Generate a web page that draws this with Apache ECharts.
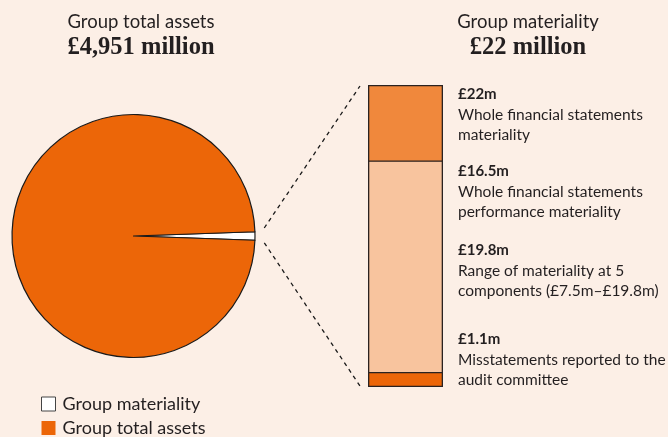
<!DOCTYPE html>
<html>
<head>
<meta charset="utf-8">
<script src="https://cdn.jsdelivr.net/npm/echarts@6/dist/echarts.min.js"></script>
<style>
  html, body { margin: 0; padding: 0; background: #fcefe6; }
  #chart { width: 668px; height: 437px; }
</style>
</head>
<body>
<div id="chart"></div>
<script>
// Pie: group materiality within group total assets (£m)
const pieNames = ['Group materiality', 'Group total assets'];
const pieValues = [22, 4929];
const pieColors = ['#ffffff', '#ec6608'];

// Materiality levels (£m), drawn as overlapping bars from zero
const barNames = ['Whole financial statements materiality', 'Performance materiality', 'Misstatements reported'];
const barValues = [22, 16.5, 1.1];
const barColors = ['#f0883c', '#f8c49e', '#ec6608'];
const barAxisMax = 22;

// Notes to the right of the bar
const noteValues = ['£22m', '£16.5m', '£19.8m', '£1.1m'];
const noteTexts = [
  'Whole financial statements\nmateriality',
  'Whole financial statements\nperformance materiality',
  'Range of materiality at 5\ncomponents (£7.5m–£19.8m)',
  'Misstatements reported to the\naudit committee'
];
const noteTops = [87, 164, 243, 332];

const SANS = 'Lato, "Open Sans", sans-serif';
const SERIF = '"Liberation Serif", "DejaVu Serif", serif';
const INK = '#231f20';

const pieCenter = [133.5, 236];
const pieRadius = 121.5;
const gridLeft = 368, gridTop = 85, gridWidth = 75, gridHeight = 302;

const chart = echarts.init(document.getElementById('chart'), null, { renderer: 'canvas' });

const noteGraphics = noteValues.map((v, i) => ({
  type: 'text',
  left: 458,
  top: noteTops[i],
  style: {
    text: '{v|' + v + '}\n{d|' + noteTexts[i].split('\n').join('}\n{d|') + '}',
    rich: {
      v: { fontFamily: SANS, fontWeight: 'bold', fontSize: 15, lineHeight: 20, fill: INK },
      d: { fontFamily: SANS, fontSize: 15.5, lineHeight: 20, fill: INK }
    }
  }
}));

const titleStyle = { fontFamily: SANS, fontWeight: 'normal', fontSize: 18.5, color: INK };
const subStyle = { fontFamily: SERIF, fontWeight: 'bold', fontSize: 24.5, color: INK };

const option = {
  animation: false,
  backgroundColor: '#fcefe6',
  title: [
    {
      text: 'Group total assets', subtext: '£4,951 million',
      left: 136, top: 8, textAlign: 'center', itemGap: 3,
      textStyle: titleStyle, subtextStyle: subStyle
    },
    {
      text: 'Group materiality', subtext: '£22 million',
      left: 523, top: 8, textAlign: 'center', itemGap: 3,
      textStyle: titleStyle, subtextStyle: subStyle
    }
  ],
  legend: {
    orient: 'vertical', left: 41, top: 395, padding: 0,
    itemWidth: 14, itemHeight: 14, itemGap: 6,
    icon: 'rect',
    selectedMode: false,
    textStyle: { fontFamily: SANS, fontSize: 18, color: INK, padding: [0, 0, 0, 2] },
    data: [
      { name: pieNames[0], itemStyle: { color: '#ffffff', borderColor: '#444', borderWidth: 1 } },
      { name: pieNames[1], itemStyle: { color: pieColors[1], borderWidth: 0 } }
    ]
  },
  grid: { left: gridLeft, top: gridTop, width: gridWidth, height: gridHeight },
  xAxis: { type: 'category', data: ['Group materiality'], show: false },
  yAxis: { type: 'value', min: 0, max: barAxisMax, show: false },
  series: [
    {
      type: 'pie',
      center: pieCenter,
      radius: pieRadius,
      startAngle: 2,
      minAngle: 4,
      clockwise: true,
      label: { show: false },
      labelLine: { show: false },
      emphasis: { disabled: true },
      itemStyle: { borderColor: '#1a1a1a', borderWidth: 1.2 },
      data: pieNames.map((n, i) => ({ name: n, value: pieValues[i], itemStyle: { color: pieColors[i] } }))
    }
  ].concat(barValues.map((v, i) => ({
    type: 'bar',
    name: barNames[i],
    data: [v],
    barGap: '-100%',
    barCategoryGap: '0%',
    emphasis: { disabled: true },
    itemStyle: { color: barColors[i], borderColor: '#2a2220', borderWidth: 1.3 }
  }))),
  graphic: noteGraphics
};

chart.setOption(option);

// Dashed connectors from the materiality slice to the bar's top and bottom corners
function connectors() {
  let a0 = 2 * Math.PI / 180, a1 = -2 * Math.PI / 180;
  try {
    const lay = chart.getModel().getSeriesByIndex(0).getData().getItemLayout(0);
    a0 = -lay.startAngle; a1 = -lay.endAngle;
  } catch (e) {}
  const hi = Math.max(a0, a1) + 1.5 * Math.PI / 180;
  const lo = Math.min(a0, a1) - 1.0 * Math.PI / 180;
  const rr = pieRadius + 9.5;
  const yTop = chart.convertToPixel({ yAxisIndex: 0 }, barAxisMax);
  const yBot = chart.convertToPixel({ yAxisIndex: 0 }, 0);
  const xEnd = gridLeft - 8;
  const p1 = [pieCenter[0] + rr * Math.cos(hi), pieCenter[1] - rr * Math.sin(hi)];
  const p2 = [pieCenter[0] + rr * Math.cos(lo), pieCenter[1] - rr * Math.sin(lo)];
  const lineStyle = { stroke: '#1a1a1a', lineWidth: 1.3, lineDash: [4, 4] };
  chart.setOption({
    graphic: noteGraphics.concat([
      { type: 'line', shape: { x1: p1[0], y1: p1[1], x2: xEnd, y2: yTop + 1 }, style: lineStyle, silent: true },
      { type: 'line', shape: { x1: p2[0], y1: p2[1], x2: xEnd, y2: yBot - 1 }, style: lineStyle, silent: true }
    ])
  }, { replaceMerge: ['graphic'] });
}
connectors();
</script>
</body>
</html>
